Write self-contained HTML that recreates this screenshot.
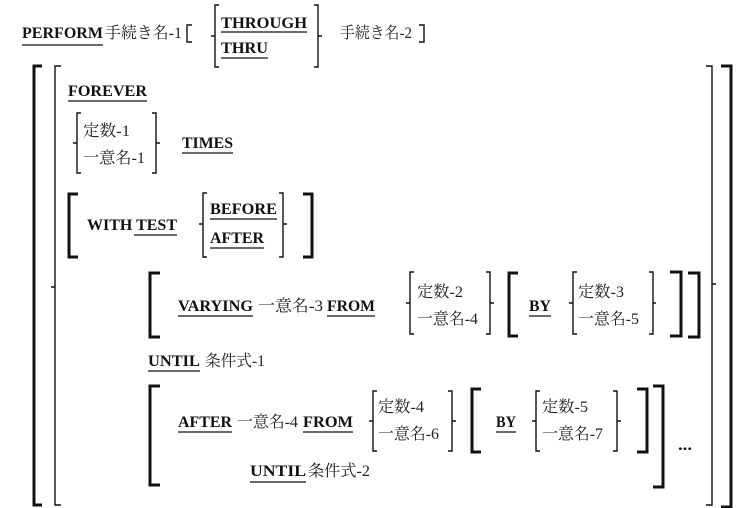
<!DOCTYPE html>
<html><head><meta charset="utf-8"><style>
html,body{margin:0;padding:0;background:#fff;}
svg{display:block}
.k{font-family:"Liberation Serif",serif;font-weight:bold;font-size:16px;fill:#111}
.j{font-family:"Liberation Serif","Noto Serif CJK JP",serif;font-size:16px;fill:#222}
.u{stroke:#111;stroke-width:1.3}
.tb{fill:none;stroke:#111;stroke-width:3}
.tn{fill:none;stroke:#111;stroke-width:1.4}
</style></head><body>
<svg width="748" height="508" viewBox="0 0 748 508" xmlns="http://www.w3.org/2000/svg">
<!-- line 1 -->
<text class="k" x="22" y="38" textLength="81" lengthAdjust="spacingAndGlyphs">PERFORM</text>
<line class="u" x1="22" y1="45" x2="103" y2="45"/>
<text class="j" x="105" y="38" textLength="77" lengthAdjust="spacingAndGlyphs">手続き名-1</text>
<path class="tn" d="M192,25 H187 V42 H192"/>
<path class="tn" d="M219,5 H215 V67 H219 M215,36 H211"/>
<text class="k" x="221" y="28" textLength="86" lengthAdjust="spacingAndGlyphs">THROUGH</text>
<line class="u" x1="221" y1="32" x2="307" y2="32"/>
<text class="k" x="221" y="53" textLength="47" lengthAdjust="spacingAndGlyphs">THRU</text>
<line class="u" x1="221" y1="58" x2="268" y2="58"/>
<path class="tn" d="M314,5 H318 V67 H314 M318,36 H322"/>
<text class="j" x="340" y="38" textLength="72" lengthAdjust="spacingAndGlyphs">手続き名-2</text>
<path class="tn" d="M419,25 H424 V42 H419"/>

<!-- outer brackets -->
<path class="tb" d="M42,66 H34 V505 H42"/>
<path class="tn" d="M61,66 H55 V505 H61 M55,287 H51"/>
<path class="tn" d="M706,66 H712 V505 H706 M712,284 H716"/>
<path class="tb" d="M721,66 H731 V507 H721"/>

<!-- FOREVER -->
<text class="k" x="68" y="96" textLength="79" lengthAdjust="spacingAndGlyphs">FOREVER</text>
<line class="u" x1="68" y1="101" x2="147" y2="101"/>
<path class="tn" d="M81,113 H77 V173 H81 M77,143 H73"/>
<text class="j" x="83" y="136" textLength="47" lengthAdjust="spacingAndGlyphs">定数-1</text>
<text class="j" x="83" y="163" textLength="62" lengthAdjust="spacingAndGlyphs">一意名-1</text>
<path class="tn" d="M152,113 H156 V173 H152 M156,143 H160"/>
<text class="k" x="182" y="148" textLength="51" lengthAdjust="spacingAndGlyphs">TIMES</text>
<line class="u" x1="182" y1="153" x2="233" y2="153"/>

<!-- WITH TEST -->
<path class="tb" d="M78,194 H69 V257 H78"/>
<text class="k" x="87" y="230" textLength="90" lengthAdjust="spacingAndGlyphs">WITH TEST</text>
<line class="u" x1="134" y1="235" x2="177" y2="235"/>
<path class="tn" d="M207,193 H203 V257 H207 M203,224 H199"/>
<text class="k" x="210" y="214" textLength="67" lengthAdjust="spacingAndGlyphs">BEFORE</text>
<line class="u" x1="210" y1="219" x2="277" y2="219"/>
<text class="k" x="210" y="243" textLength="54" lengthAdjust="spacingAndGlyphs">AFTER</text>
<line class="u" x1="210" y1="248" x2="264" y2="248"/>
<path class="tn" d="M279,193 H283 V257 H279 M283,224 H287"/>
<path class="tb" d="M303,194 H312 V257 H303"/>

<!-- VARYING -->
<path class="tb" d="M160,273 H150 V337 H160"/>
<text class="k" x="178" y="311" textLength="75" lengthAdjust="spacingAndGlyphs">VARYING</text>
<line class="u" x1="178" y1="316" x2="253" y2="316"/>
<text class="j" x="258" y="311" textLength="65" lengthAdjust="spacingAndGlyphs">一意名-3</text>
<text class="k" x="327" y="311" textLength="48" lengthAdjust="spacingAndGlyphs">FROM</text>
<line class="u" x1="327" y1="316" x2="375" y2="316"/>
<path class="tn" d="M414,272 H410 V334 H414 M410,303 H406"/>
<text class="j" x="417" y="297" textLength="46" lengthAdjust="spacingAndGlyphs">定数-2</text>
<text class="j" x="417" y="324" textLength="61" lengthAdjust="spacingAndGlyphs">一意名-4</text>
<path class="tn" d="M486,272 H490 V334 H486 M490,303 H494"/>
<path class="tb" d="M518,273 H509 V336 H518"/>
<text class="k" x="529" y="311" textLength="22" lengthAdjust="spacingAndGlyphs">BY</text>
<line class="u" x1="529" y1="316" x2="551" y2="316"/>
<path class="tn" d="M577,272 H573 V334 H577 M573,303 H569"/>
<text class="j" x="578" y="297" textLength="46" lengthAdjust="spacingAndGlyphs">定数-3</text>
<text class="j" x="578" y="324" textLength="61" lengthAdjust="spacingAndGlyphs">一意名-5</text>
<path class="tn" d="M649,272 H653 V334 H649 M653,303 H656"/>
<path class="tb" d="M670,272 H681 V336 H670"/>
<path class="tb" d="M688,273 H699 V337 H688"/>

<!-- UNTIL 1 -->
<text class="k" x="148" y="366" textLength="52" lengthAdjust="spacingAndGlyphs">UNTIL</text>
<line class="u" x1="148" y1="371" x2="200" y2="371"/>
<text class="j" x="205" y="366" textLength="60" lengthAdjust="spacingAndGlyphs">条件式-1</text>

<!-- AFTER block -->
<path class="tb" d="M160,386 H150 V485 H160"/>
<text class="k" x="178" y="427" textLength="54" lengthAdjust="spacingAndGlyphs">AFTER</text>
<line class="u" x1="178" y1="432" x2="232" y2="432"/>
<text class="j" x="237" y="427" textLength="61" lengthAdjust="spacingAndGlyphs">一意名-4</text>
<text class="k" x="303" y="427" textLength="50" lengthAdjust="spacingAndGlyphs">FROM</text>
<line class="u" x1="303" y1="432" x2="353" y2="432"/>
<path class="tn" d="M377,391 H373 V451 H377 M373,421 H369"/>
<text class="j" x="378" y="412" textLength="46" lengthAdjust="spacingAndGlyphs">定数-4</text>
<text class="j" x="378" y="439" textLength="61" lengthAdjust="spacingAndGlyphs">一意名-6</text>
<path class="tn" d="M448,391 H452 V451 H448 M452,421 H456"/>
<path class="tb" d="M481,389 H472 V452 H481"/>
<text class="k" x="496" y="427" textLength="20" lengthAdjust="spacingAndGlyphs">BY</text>
<line class="u" x1="496" y1="432" x2="516" y2="432"/>
<path class="tn" d="M540,391 H536 V451 H540 M536,421 H532"/>
<text class="j" x="542" y="412" textLength="46" lengthAdjust="spacingAndGlyphs">定数-5</text>
<text class="j" x="542" y="439" textLength="61" lengthAdjust="spacingAndGlyphs">一意名-7</text>
<path class="tn" d="M613,391 H617 V451 H613 M617,421 H621"/>
<path class="tb" d="M637,389 H647 V452 H637"/>
<path class="tb" d="M653,386 H663 V487 H653"/>
<text class="k" x="678" y="450" textLength="14" lengthAdjust="spacingAndGlyphs">...</text>
<text class="k" x="250" y="476" textLength="56" lengthAdjust="spacingAndGlyphs">UNTIL</text>
<line class="u" x1="250" y1="482" x2="306" y2="482"/>
<text class="j" x="308" y="476" textLength="62" lengthAdjust="spacingAndGlyphs">条件式-2</text>
</svg>
</body></html>
